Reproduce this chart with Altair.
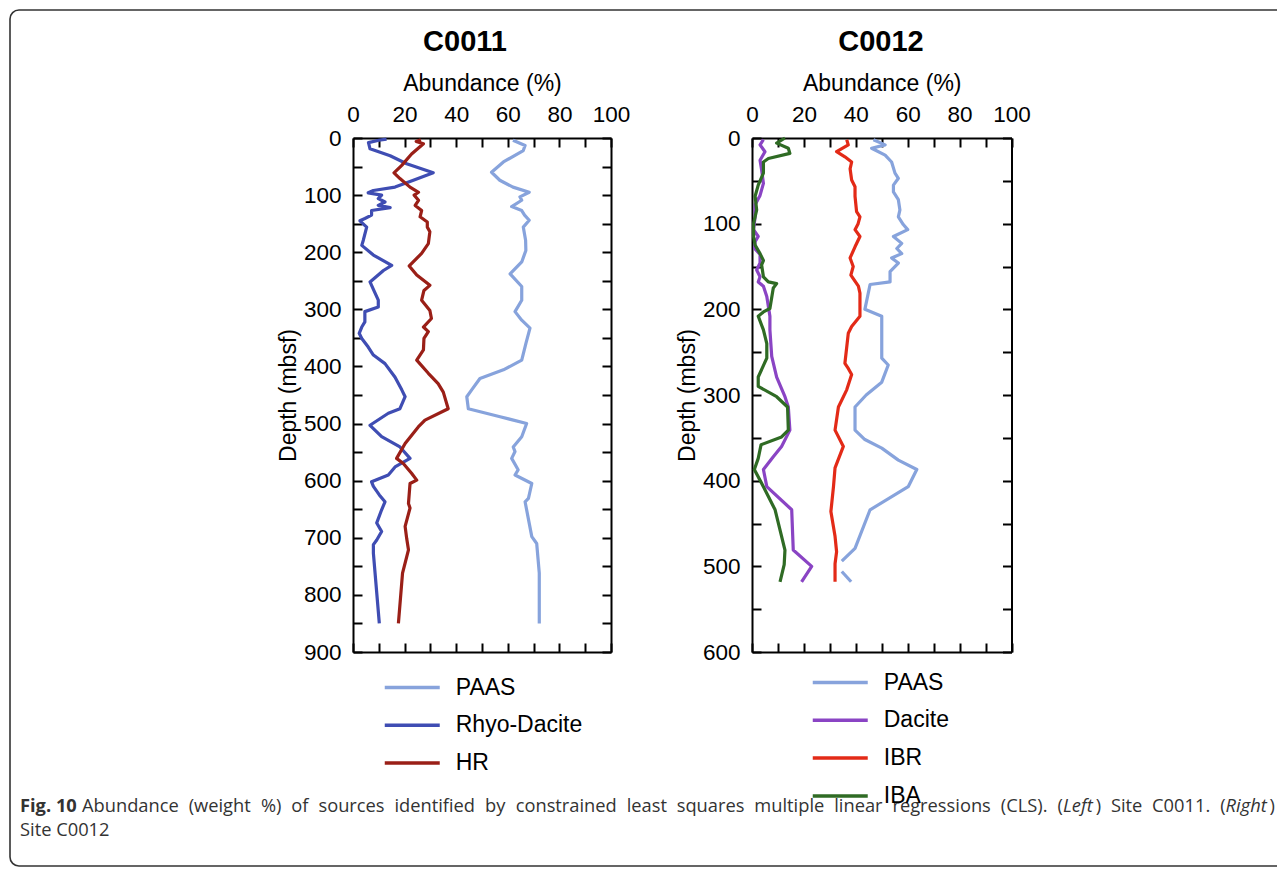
import altair as alt
import pandas as pd

W, H = 1269, 859
FONT = "Liberation Sans"
CAP_FONT = "Open Sans"

# ---------------- Site C0011 ----------------
c11_names = ["PAAS", "Rhyo-Dacite", "HR"]
c11_colors = ["#87a3dc", "#3f4db3", "#9a1f17"]

c11_paas_depth = [4, 13, 22, 42, 60, 74, 86, 95, 103, 109,
                  120, 127, 135, 144, 156, 179, 197, 217, 238, 260,
                  284, 304, 319, 333, 360, 389, 406, 421, 441, 453,
                  474, 488, 500, 523, 541, 549, 561, 581, 590, 605,
                  631, 637, 698, 710, 762, 850]
c11_paas_val = [62, 66.7, 66, 58.3, 53.7, 56.9, 62, 68.3, 64.7, 65.4,
                61.5, 65.4, 66.5, 68.3, 66, 66.9, 67, 65.4, 60.9, 65.4,
                65.4, 62.8, 65.4, 68.6, 67, 65.4, 58.3, 49.2, 46, 44.1,
                44.7, 57, 67.3, 65.4, 62.1, 62.8, 61.5, 64, 62.8, 69.3,
                68, 66.7, 69.3, 71.2, 72.2, 72.2]

c11_rhyo_depth = [2, 4, 8, 19, 31, 45, 61, 74, 86, 92,
                  96, 100, 106, 112, 118, 122, 127, 135, 141, 145,
                  156, 179, 188, 205, 223, 232, 252, 258, 284, 296,
                  304, 322, 331, 342, 351, 366, 380, 395, 419, 441,
                  453, 474, 482, 503, 523, 541, 561, 576, 590, 602,
                  610, 625, 637, 651, 674, 689, 704, 712, 727, 850]
c11_rhyo_val = [13, 10, 6, 6.6, 14.4, 20.8, 31.1, 23.4, 16.3, 7.9,
                5.9, 11.1, 9.8, 12.4, 9.8, 14.4, 7.2, 7.2, 4.6, 2.7,
                5.3, 4, 3.4, 7.9, 15, 11.8, 6.6, 7.2, 9.8, 9.8,
                4.6, 4.6, 3.4, 2.4, 3.4, 5.9, 7.9, 12.4, 16.3, 18.9,
                20.2, 18.2, 13.7, 6.6, 11.1, 18.2, 22.1, 16.3, 13.7, 7.2,
                7.9, 10.2, 12.4, 11.1, 9.2, 11.1, 9.2, 7.9, 7.9, 10.2]

c11_hr_depth = [3, 6, 10, 28, 48, 61, 71, 86, 95, 100,
                109, 118, 127, 138, 147, 156, 164, 185, 202, 224,
                240, 258, 267, 284, 302, 316, 331, 339, 351, 371,
                389, 412, 430, 445, 474, 494, 506, 535, 561, 570,
                587, 599, 605, 640, 648, 680, 701, 721, 762, 850]
c11_hr_val = [26.3, 24.5, 27.3, 22.7, 18.9, 15.9, 18.2, 22.1, 25.4, 23.7,
              25.4, 24.1, 26.6, 26, 28.8, 28.8, 29.8, 29.2, 26.6, 21.8,
              24.7, 29.8, 27.5, 26.6, 29.8, 30.4, 27.3, 29.2, 27.5, 27.3,
              24.7, 29.2, 33, 35, 36.9, 27.9, 25.3, 20.2, 16.9, 19.5,
              22.7, 24.7, 22.1, 21.5, 22.1, 20.2, 20.8, 21.5, 19.2, 17.6]

# ---------------- Site C0012 ----------------
c12_names = ["PAAS", "Dacite", "IBR", "IBA"]
c12_colors = ["#87a3dc", "#8a44c4", "#e32a17", "#2f6b24"]

c12_paas_depth = [2, 8, 12, 20, 28, 41, 47, 55, 63, 72,
                  84, 92, 101, 107, 115, 123, 129, 135, 140, 146,
                  156, 168, 171, 200, 208, 224, 257, 265, 285, 300,
                  314, 341, 352, 362, 376, 387, 407, 434, 479, 494]
c12_paas_val = [46.8, 51.3, 46.1, 51.3, 53.8, 55.1, 56.4, 54.5, 54.5, 56.4,
                57, 56.4, 58.3, 60, 54.5, 57.7, 55.8, 57.7, 53.8, 56.4,
                53.2, 53.2, 45.5, 43.5, 50, 50, 50, 52.5, 50, 44,
                39.7, 39.7, 43.5, 50, 56.4, 63.5, 60.2, 45.5, 39.7, 34.6]
# separate short piece after the gap
c12_paas2_depth = [506, 518]
c12_paas2_val = [34.6, 38.2]

c12_dac_depth = [2, 8, 16, 26, 37, 53, 67, 78, 92, 107,
                 115, 121, 129, 136, 146, 154, 162, 168, 173, 185,
                 208, 224, 255, 279, 302, 314, 341, 360, 372, 387,
                 407, 434, 481, 500, 518]
c12_dac_val = [4.4, 3.1, 5, 3.1, 3.7, 4.4, 3.1, 1.2, 1.2, 0.6,
               2.4, 1.2, 1, 3.1, 3.1, 1.8, 3.1, 2.4, 4.4, 5.7,
               6.9, 6.9, 7.6, 9.5, 12.7, 14, 14.6, 11.4, 8.2, 4.4,
               5.7, 15.3, 15.9, 23, 19.1]

c12_ibr_depth = [2, 8, 16, 22, 28, 36, 49, 57, 68, 86,
                 92, 100, 107, 115, 127, 140, 150, 160, 173, 181,
                 208, 220, 228, 263, 269, 276, 294, 314, 341, 360,
                 385, 407, 436, 465, 483, 497, 518]
c12_ibr_val = [36.5, 37.1, 32.6, 35.8, 38.4, 37.8, 38.4, 39.7, 39.7, 40.3,
               41.6, 40.9, 39.7, 41.6, 39.7, 37.8, 39, 38.1, 41, 41.6,
               41.6, 38.4, 37.1, 35.8, 37.1, 38.4, 36.5, 33.3, 32, 35.2,
               32, 31.4, 30.4, 32, 32.6, 32, 32]

c12_iba_depth = [0, 6, 12, 18, 24, 28, 41, 55, 68, 84,
                 100, 115, 125, 135, 143, 148, 162, 168, 170, 175,
                 199, 203, 208, 224, 240, 257, 279, 290, 302, 314,
                 341, 349, 358, 374, 387, 407, 434, 481, 498, 518]
c12_iba_val = [12.7, 9.5, 14, 14.6, 6.3, 4.4, 4.4, 2.4, 1.2, 1.8,
               0.6, 0.6, 1.2, 3.1, 4.4, 3.7, 4.4, 6.3, 9.5, 8.2,
               6.9, 4.4, 2.4, 4.4, 5.7, 5.7, 2.4, 2.4, 9.5, 13.7,
               14, 11.4, 3.5, 2.4, 0.9, 4.4, 8.9, 12.7, 12.4, 10.8]

x_ticks = [0, 10, 20, 30, 40, 50, 60, 70, 80, 90, 100]

# ---------------- caption text ----------------
cap_bold = "Fig. 10"
cap_words = ["Abundance", "(weight", "%)", "of", "sources", "identified", "by",
             "constrained", "least", "squares", "multiple", "linear", "regressions",
             "(CLS).", "(|Left|)", "Site", "C0011.", "(|Right|)"]
cap_line2 = "Site C0012"


def build_df(names, depth_lists, value_lists, segs):
    rows = []
    for name, ds, vs, seg in zip(names, depth_lists, value_lists, segs):
        assert len(ds) == len(vs)
        for i, (d, v) in enumerate(zip(ds, vs)):
            rows.append({"series": name, "depth": d, "value": v, "order": i, "seg": seg})
    return pd.DataFrame(rows)


df11 = build_df(c11_names,
                [c11_paas_depth, c11_rhyo_depth, c11_hr_depth],
                [c11_paas_val, c11_rhyo_val, c11_hr_val],
                ["a", "b", "c"])
df12 = build_df(["PAAS", "PAAS", "Dacite", "IBR", "IBA"],
                [c12_paas_depth, c12_paas2_depth, c12_dac_depth, c12_ibr_depth, c12_iba_depth],
                [c12_paas_val, c12_paas2_val, c12_dac_val, c12_ibr_val, c12_iba_val],
                ["a", "a2", "b", "c", "d"])


def panel(df, names, colors, xr, yr, ymax, lx, ly):
    xs = alt.Scale(domain=[0, 100], range=xr, nice=False, zero=False)
    ys = alt.Scale(domain=[0, ymax], range=yr, nice=False, zero=False)
    yt = list(range(0, ymax + 1, 50))
    tick_style = dict(labels=False, ticks=True, tickSize=9, tickWidth=2,
                      tickColor="black", grid=False, title=None)
    lines = alt.Chart(df).mark_line(strokeWidth=3.2, strokeJoin="round").encode(
        x=alt.X("value:Q", scale=xs, axis=alt.Axis(
            orient="top", offset=-yr[0], values=x_ticks,
            labelExpr="datum.value % 20 == 0 ? datum.label : ''",
            ticks=False, tickSize=0, domain=True, domainColor="black", domainWidth=2,
            labelFont=FONT, labelFontSize=22.5, labelColor="black", labelPadding=12,
            labelFlush=False, labelOverlap=False,
            title="Abundance (%)", titleFont=FONT, titleFontSize=23,
            titleFontWeight="normal", titleColor="black", titlePadding=8, grid=False)),
        y=alt.Y("depth:Q", scale=ys, axis=alt.Axis(
            orient="left", offset=-xr[0], values=yt,
            labelExpr="datum.value % 100 == 0 ? datum.label : ''",
            ticks=False, tickSize=0, domain=True, domainColor="black", domainWidth=2,
            labelFont=FONT, labelFontSize=22.5, labelColor="black", labelPadding=12,
            labelFlush=False, labelOverlap=False,
            title="Depth (mbsf)", titleFont=FONT, titleFontSize=23,
            titleFontWeight="normal", titleColor="black", titlePadding=3, grid=False)),
        color=alt.Color("series:N", scale=alt.Scale(domain=names, range=colors),
                        legend=alt.Legend(orient="none", legendX=lx, legendY=ly, title=None,
                                          symbolType="M-2,0L2,0", symbolSize=756,
                                          symbolStrokeWidth=3.5, symbolOffset=13.75,
                                          labelOffset=28, labelFont=FONT, labelFontSize=23,
                                          labelColor="black", rowPadding=9.8, padding=0)),
        order=alt.Order("order:Q"),
        detail="seg:N",
    )
    t1 = alt.Chart(df).mark_point(opacity=0).encode(
        x=alt.X("value:Q", scale=xs, axis=alt.Axis(orient="bottom", offset=yr[0] - H,
                                                     values=x_ticks, domain=False, **tick_style)),
        y=alt.Y("depth:Q", scale=ys, axis=alt.Axis(orient="right", offset=xr[0] - W,
                                                     values=yt, domain=False, **tick_style)),
    )
    t2 = alt.Chart(df).mark_point(opacity=0).encode(
        x=alt.X("value:Q", scale=xs, axis=alt.Axis(orient="top", offset=-yr[1],
                                                     values=x_ticks, domain=True, domainColor="black",
                                                     domainWidth=2, **tick_style)),
        y=alt.Y("depth:Q", scale=ys, axis=alt.Axis(orient="left", offset=-xr[1],
                                                     values=yt, domain=True, domainColor="black",
                                                     domainWidth=2, **tick_style)),
    )
    return [lines, t1, t2]


p11 = panel(df11, c11_names, c11_colors, [345, 603], [130, 644], 900, 375, 664)
p12 = panel(df12, c12_names, c12_colors, [744, 1003.5], [130, 644], 600, 803, 659)

# ---------------- panel titles ----------------
titles_df = pd.DataFrame({"t": ["C0011", "C0012"], "x": [457, 873]})
titles = alt.Chart(titles_df).mark_text(font=FONT, fontSize=29, fontWeight="bold",
                                        color="black", align="center", baseline="middle").encode(
    text="t:N", x=alt.X("x:Q", scale=None, axis=None), y=alt.value(34))

# ---------------- caption (justified first line) ----------------
OS = {" ": .26, "(": .297, ")": .297, "%": .828, ".": .266, "0": .572, "1": .572,
      "A": .633, "C": .631, "L": .528, "R": .635, "S": .547,
      "a": .556, "b": .613, "c": .476, "d": .613, "e": .561, "f": .339, "g": .548,
      "h": .614, "i": .253, "l": .253, "m": .93, "n": .614, "o": .604, "p": .613,
      "q": .613, "r": .408, "s": .477, "t": .353, "u": .614, "w": .788, "y": .528}
CAP_FS = 18.3


def tw(s):
    return sum(OS.get(ch, .56) for ch in s) * CAP_FS


x0, x1 = 74, 1267
tok_w = [tw(w.replace("|", "")) for w in cap_words]
gap = (x1 - x0 - sum(tok_w)) / (len(cap_words) - 1)
rows = [{"t": cap_bold, "x": 12, "y": 804, "s": "b"}]
cx = x0
for w, wd in zip(cap_words, tok_w):
    parts = w.split("|")
    px = cx
    for k, part in enumerate(parts):
        if part:
            rows.append({"t": part, "x": px, "y": 804, "s": "i" if (len(parts) == 3 and k == 1) else "n"})
        px += tw(part)
    cx += wd + gap
rows.append({"t": cap_line2, "x": 12, "y": 828, "s": "n"})
cap_df = pd.DataFrame(rows)


def cap_layer(style, **kw):
    return alt.Chart(cap_df).transform_filter(f"datum.s == '{style}'").mark_text(
        font=CAP_FONT, fontSize=CAP_FS, color="#333333", align="left", baseline="alphabetic", **kw
    ).encode(text="t:N", x=alt.X("x:Q", scale=None, axis=None), y=alt.Y("y:Q", scale=None, axis=None))


cap_b = cap_layer("b", fontWeight="bold")
cap_n = cap_layer("n")
cap_i = cap_layer("i", fontStyle="italic")

# ---------------- rounded outer frame ----------------
border = alt.Chart(pd.DataFrame({"k": [0]})).mark_rect(
    filled=False, stroke="#333333", strokeWidth=1.6, cornerRadius=9).encode(
    x=alt.value(2), x2=alt.value(1300), y=alt.value(2), y2=alt.value(858))

chart = alt.layer(border, *p11, *p12, titles, cap_b, cap_n, cap_i).resolve_scale(
    x="independent", y="independent", color="independent"
).properties(width=W, height=H, padding=0,
             autosize=alt.AutoSizeParams(type="none")).configure_view(stroke=None)

chart.save("out.html", embed_options={"renderer": "svg", "actions": False})
